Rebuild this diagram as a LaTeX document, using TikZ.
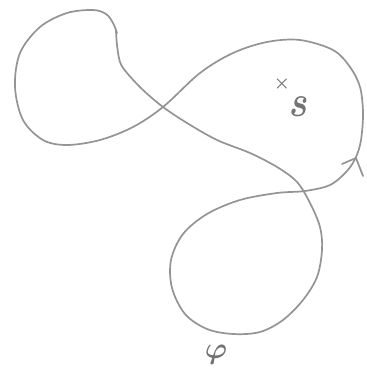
\documentclass[tikz,border=0pt]{standalone}
\begin{document}
\begin{tikzpicture}[x=1pt,y=-1pt,
  pencil/.style={draw=black!42, line width=1.7pt, line cap=round, line join=round},
  lbl/.style={text=black!55, inner sep=0pt, font=\boldmath}]
\useasboundingbox (0,0) rectangle (366,371);
\fill[white] (0,0) rectangle (366,371);
\draw[pencil] plot[smooth, tension=0.55] coordinates {
 (116,31) (117,45) (120,62) (127,73) (143,90) (163,107) (187,123) (217,140)
 (250,153) (277,167) (297,182) (310,203) (320,227) (322,250) (317,277)
 (303,300) (283,320) (260,332) (233,334) (207,329) (185,314) (172,288)
 (171,260) (183,234) (207,214) (240,200) (277,193) (305,191) (330,185)
 (347,171) (356,157) (361,140) (363,113) (360,87) (350,67) (333,50)
 (300,40) (267,42) (233,53) (200,73) (163,107) (133,127) (100,140)
 (67,145) (43,140) (23,120) (15,87) (20,53) (40,27) (67,13) (93,10)
 (106,14) (113,23) (117,33)};
\coordinate (tip) at (356,158);
\coordinate (barb1) at (342,164);
\coordinate (barb2) at (363,176);
\draw[pencil] (barb1) -- (tip) -- (barb2);
\node[lbl, scale=1.8] (x) at (282,84) {$\times$};
\node[lbl, xscale=3.6, yscale=4.4] (s) at (299,107) {$s$};
\node[lbl, scale=3] (phi) at (216,355) {$\varphi$};
\end{tikzpicture}
\end{document}
